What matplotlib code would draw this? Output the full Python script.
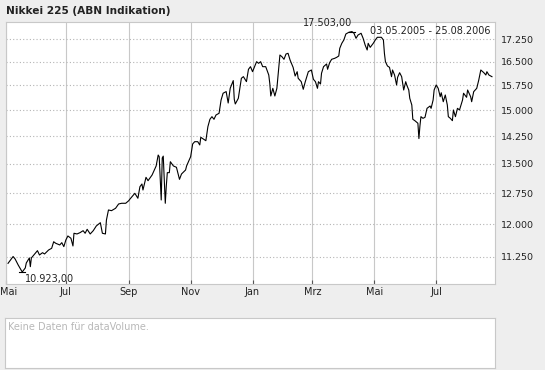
import matplotlib
matplotlib.use("Agg")
import matplotlib.pyplot as plt
import matplotlib.transforms as mtransforms
from matplotlib.ticker import FixedLocator, NullLocator, FuncFormatter
import pandas as pd

# Nikkei 225 daily closes (days after 03.05.2005)
start = pd.Timestamp("2005-05-03")
end = pd.Timestamp("2006-08-28")

day_offsets = [
    2, 7, 9, 12, 16, 19, 20, 23, 24, 25, 29, 31, 33, 36, 38, 42, 45, 47, 49, 53,
    55, 57, 59, 61, 64, 66, 67, 70, 73, 76, 78, 80, 83, 86, 89, 93, 95, 98, 99, 101,
    104, 108, 111, 114, 118, 121, 122, 127, 130, 132, 134, 135, 138, 140, 144, 148, 150, 151, 153, 154,
    155, 157, 158, 159, 161, 162, 165, 168, 171, 173, 177, 178, 182, 184, 186, 189, 191, 192, 195, 197,
    199, 201, 203, 205, 207, 210, 212, 214, 217, 219, 221, 224, 225, 226, 229, 232, 234, 237, 239, 241,
    243, 247, 249, 251, 253, 256, 259, 260, 261, 263, 265, 267, 270, 272, 274, 276, 278, 280, 283, 285,
    287, 288, 291, 293, 295, 298, 301, 303, 305, 307, 308, 310, 311, 313, 316, 317, 319, 321, 324, 326,
    328, 329, 331, 333, 335, 338, 341, 343, 345, 347, 350, 352, 354, 356, 357, 359, 362, 364, 366, 370,
    372, 373, 374, 376, 378, 380, 381, 383, 385, 386, 388, 390, 392, 394, 395, 397, 398, 400, 401, 403,
    406, 407, 408, 409, 411, 413, 415, 418, 419, 421, 422, 424, 426, 428, 429, 431, 433, 435, 436, 438,
    440, 441, 443, 445, 447, 450, 451, 454, 455, 458, 459, 461, 464, 466, 468, 471, 473, 474, 476, 479,
]
closes = [
    11110, 11260, 11205, 11075, 10923, 11010, 11118, 11228, 11038, 11228, 11338, 11390, 11294, 11345, 11316, 11405, 11443, 11591, 11556, 11518,
    11570, 11480, 11631, 11723, 11670, 11495, 11785, 11769, 11800, 11845, 11785, 11877, 11769, 11845, 11955, 12032, 11785, 11769, 12096, 12336,
    12319, 12377, 12482, 12499, 12499, 12563, 12597, 12746, 12622, 12912, 12981, 12829, 13152, 13065, 13212, 13448, 13740, 13695, 12580, 13660,
    13710, 12499, 12929, 13273, 13273, 13561, 13448, 13413, 13100, 13238, 13342, 13448, 13695, 14041, 14104, 14104, 14013, 14226, 14170, 14131,
    14525, 14737, 14813, 14737, 14862, 14911, 15305, 15510, 15560, 15215, 15660, 15899, 15326, 15186, 15356, 15971, 16023, 15866, 16255, 16339,
    16179, 16500, 16447, 16500, 16339, 16339, 16074, 15814, 15426, 15660, 15426, 15660, 16717, 16661, 16577, 16750, 16773, 16554, 16317, 16043,
    16179, 15971, 15865, 15630, 15865, 16179, 16233, 15940, 15865, 15660, 15865, 15793, 16128, 16339, 16425, 16255, 16468, 16577, 16609, 16642,
    16685, 16939, 17105, 17216, 17420, 17480, 17503, 17445, 17274, 17386, 17445, 17274, 17048, 16882, 17105, 16970, 17105, 17216, 17308, 17308,
    17216, 16773, 16500, 16361, 16318, 16021, 16233, 16074, 15762, 16002, 16147, 16021, 15608, 15865, 15762, 15608, 15356, 15156, 14737, 14697,
    14623, 14190, 14545, 14813, 14765, 14794, 15057, 15126, 15057, 15305, 15608, 15762, 15660, 15404, 15525, 15254, 15456, 15156, 14813, 14765,
    14697, 15008, 14813, 15057, 15008, 15305, 15510, 15386, 15608, 15404, 15254, 15557, 15660, 15918, 16233, 16147, 16074, 16179, 16074, 16021,
]

y_ticks = [11250, 12000, 12750, 13500, 14250, 15000, 15750, 16500, 17250]
x_tick_dates = ["2005-05-03", "2005-07-01", "2005-09-01", "2005-11-01",
                "2006-01-01", "2006-03-01", "2006-05-01", "2006-07-01"]
x_tick_labels = ["Mai", "Jul", "Sep", "Nov", "Jan", "Mrz", "Mai", "Jul"]

dates = start + pd.to_timedelta(day_offsets, unit="D")


def de_num(v, fmt):
    # german number style: 17.503,00
    return format(v, fmt).replace(",", " ").replace(".", ",").replace(" ", ".")


W, H = 545, 370
fig = plt.figure(figsize=(W / 100, H / 100), dpi=100, facecolor="#eeeeee")

ax = fig.add_axes([6 / W, 1 - 284 / H, 489 / W, 262 / H])
ax.set_facecolor("white")
ax.plot(dates, closes, color="black", lw=0.8)

ax.set_yscale("log")
ax.set_ylim(10669, 17835)
ax.set_xlim(start, end)

ax.yaxis.set_major_locator(FixedLocator(y_ticks))
ax.yaxis.set_minor_locator(NullLocator())
ax.yaxis.set_major_formatter(FuncFormatter(lambda v, p: de_num(v, ",.0f")))
ax.yaxis.tick_right()
ax.tick_params(axis="y", length=0, pad=4, labelsize=6.8, labelcolor="#222222")

ax.set_xticks(pd.to_datetime(x_tick_dates))
ax.set_xticklabels(x_tick_labels)
ax.xaxis.set_minor_locator(NullLocator())
ax.tick_params(axis="x", direction="in", length=3, width=0.8, color="#555555",
               pad=2.5, labelsize=7, labelcolor="#222222")
# first label sits a bit to the right so it stays inside the image
first = ax.get_xticklabels()[0]
first.set_transform(first.get_transform() +
                    mtransforms.ScaledTranslation(3 / 100, 0, fig.dpi_scale_trans))

ax.grid(axis="x", color="#c8c8c8", lw=0.8, ls="-")
ax.grid(axis="y", color="#b4b4b4", lw=0.8, ls=(0, (1, 2)))
ax.set_axisbelow(True)
for s in ax.spines.values():
    s.set_color("#c8c8c8")
    s.set_linewidth(0.8)

# min / max markers
i_min = closes.index(min(closes))
i_max = closes.index(max(closes))
for i in (i_min, i_max):
    d = dates[i]
    ax.plot([d - pd.Timedelta(days=3), d + pd.Timedelta(days=3)], [closes[i], closes[i]],
            color="black", lw=0.8)
ax.annotate(de_num(closes[i_min], ",.2f"), (dates[i_min], closes[i_min]),
            xytext=(2, -5), textcoords="offset points",
            ha="left", va="center", fontsize=7, color="#222222")
ax.annotate(de_num(closes[i_max], ",.2f"), (dates[i_max], closes[i_max]),
            xytext=(0, 6.5), textcoords="offset points",
            ha="right", va="center", fontsize=7, color="#222222", annotation_clip=False)

fig.text(491 / W, 1 - 31 / H, "03.05.2005 - 25.08.2006", ha="right", va="center",
         fontsize=7, color="#222222")
fig.text(6 / W, 1 - 11 / H, "Nikkei 225 (ABN Indikation)", ha="left", va="center",
         fontsize=7.6, fontweight="bold", color="#222222")

# empty volume panel
ax2 = fig.add_axes([5 / W, 1 - 368 / H, 490 / W, 50 / H])
ax2.set_facecolor("white")
ax2.set_xticks([])
ax2.set_yticks([])
for s in ax2.spines.values():
    s.set_color("#c8c8c8")
    s.set_linewidth(0.8)
ax2.text(3 / 490, 1 - 9 / 50, "Keine Daten für dataVolume.", transform=ax2.transAxes,
         ha="left", va="center", fontsize=7, color="#b8b8b8")

fig.savefig("out.png", dpi=100, facecolor=fig.get_facecolor())
